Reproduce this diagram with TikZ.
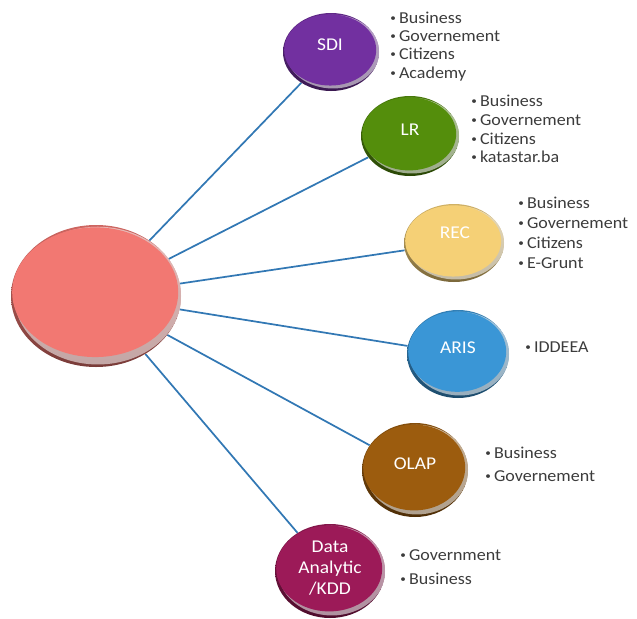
\documentclass[tikz,border=0pt]{standalone}
\usepackage{fontspec}
\usepackage{graphicx}
\setmainfont{Carlito}
\newfontfamily\discfont[FakeStretch=1.08]{Carlito}
\newfontfamily\itemfont[FakeStretch=1.08]{Carlito}
\usetikzlibrary{shapes.geometric,backgrounds}

\definecolor{link}{RGB}{50,120,180}
\definecolor{hubc}{RGB}{242,120,114}
\definecolor{sdic}{RGB}{114,48,160}
\definecolor{lrc}{RGB}{84,142,12}
\definecolor{recc}{RGB}{245,208,118}
\definecolor{arisc}{RGB}{58,150,214}
\definecolor{olapc}{RGB}{156,92,14}
\definecolor{kddc}{RGB}{156,26,88}
\definecolor{itemtext}{RGB}{60,60,60}

\tikzset{
  discshape/.style={ellipse, draw=none, inner sep=0pt},
  disclabel/.style={inner sep=0pt, align=center, text=white,
    font=\discfont\fontsize{13.5}{15.75}\selectfont},
  item/.style={anchor=base west, inner sep=0pt, text=itemtext,
    font=\itemfont\fontsize{12.5}{15}\selectfont},
  conn/.style={draw=link, line width=1.3pt}
}

% small list bullet followed by a gap
\newcommand\listdot{\makebox[6.6pt][l]{\raisebox{.12em}{\scalebox{.62}{•}}}}

% A raised disc: name, centre x, centre y, x radius, y radius (all in px), colour
\newcommand\discnode[6]{%
  \node[discshape, minimum width=#4*1.5pt, minimum height=#5*1.5pt,
    top color=#6!85!black, bottom color=#6!50!black,
    path picture={
      \fill[white, opacity=.55] ([xshift=1.4pt, yshift=.3pt]path picture bounding box.center)
        ellipse [x radius=#4*.75pt-1pt, y radius=#5*.75pt-1.6pt];
      \fill[#6] ([xshift=-.6pt, yshift=#5*.04pt]path picture bounding box.center)
        ellipse [x radius=#4*.75pt-1.5pt, y radius=#5*.75pt-#5*.065pt];
    }] (#1) at (#2,#3) {};%
}

\begin{document}
\begin{tikzpicture}[x=0.75pt, y=-0.75pt]
\useasboundingbox (0,0) rectangle (637,619);

% discs
\discnode{hub}{96}{296}{85}{71}{hubc}
\discnode{sdi}{331}{52}{48}{39}{sdic}
\discnode{lr}{410}{136}{49}{40}{lrc}
\discnode{rec}{454}{243}{50}{39}{recc}
\discnode{aris}{458}{354}{51}{44}{arisc}
\discnode{olap}{415}{470}{53}{47}{olapc}
\discnode{kdd}{330}{571}{55}{47}{kddc}

% spokes from the hub
\begin{pgfonlayer}{background}
  \foreach \d in {sdi,lr,rec,aris,olap,kdd}
    \draw[conn] (hub) -- (\d);
\end{pgfonlayer}

% disc captions
\node[disclabel] (sdi-t)  at (330,45)  {SDI};
\node[disclabel] (lr-t)   at (410,130) {LR};
\node[disclabel] (rec-t)  at (455,233) {REC};
\node[disclabel] (aris-t) at (458,348) {ARIS};
\node[disclabel] (olap-t) at (415,464) {OLAP};
\node[disclabel] (kdd-t)  at (330,568) {Data\\Analytic\\/KDD};

% bullet lists
\foreach \t [count=\i] in {Business,Governement,Citizens,Academy}
  \node[item] (sdi-\i) at (390,{23.5+18.2*(\i-1)}) {\listdot\t};
\foreach \t [count=\i] in {Business,Governement,Citizens,katastar.ba}
  \node[item] (lr-\i) at (471,{106.5+18.8*(\i-1)}) {\listdot\t};
\foreach \t [count=\i] in {Business,Governement,Citizens,E-Grunt}
  \node[item] (rec-\i) at (518,{208.5+20*(\i-1)}) {\listdot\t};
\node[item] (aris-1) at (525,352.5) {\listdot IDDEEA};
\foreach \t [count=\i] in {Business,Governement}
  \node[item] (olap-\i) at (485,{458.5+23*(\i-1)}) {\listdot\t};
\foreach \t [count=\i] in {Government,Business}
  \node[item] (kdd-\i) at (400,{560.5+24*(\i-1)}) {\listdot\t};
\end{tikzpicture}
\end{document}
